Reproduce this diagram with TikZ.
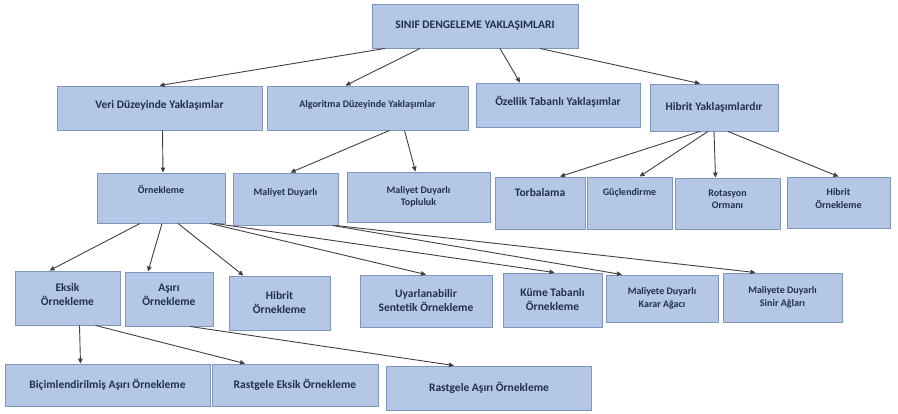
\documentclass[tikz,border=0pt]{standalone}
\usepackage{fontspec}
\setmainfont{Carlito}
\usepackage{tikz}
\usetikzlibrary{arrows.meta, positioning}
\definecolor{cfill}{HTML}{B4C7E7}
\definecolor{cedge}{HTML}{7F95BD}
\definecolor{ctext}{HTML}{22304D}
\definecolor{cline}{HTML}{404040}
\tikzset{
  cbox/.style={draw=cedge, fill=cfill, line width=0.9pt, text=ctext,
               font=\fontsize{11.5}{14}\selectfont\bfseries, align=center,
               inner sep=2pt, anchor=center},
  sbox/.style={cbox, font=\fontsize{10}{12.5}\selectfont\bfseries},
  textup/.style={text depth=#1},
  arr/.style={-{Triangle[length=5pt,width=4.5pt]}, line width=0.9pt, cline},
}
\begin{document}
\begin{tikzpicture}[x=1pt, y=-1pt]
  \useasboundingbox (0,0) rectangle (898,413);
  % top level
  \node[cbox, minimum width=206pt, minimum height=44pt] (root) at (475,26) {SINIF DENGELEME YAKLAŞIMLARI};
  \node[cbox, textup=8pt, minimum width=205pt, minimum height=44pt] (veri) at (159.5,108) {Veri Düzeyinde Yaklaşımlar};
  \node[sbox, textup=8pt, minimum width=201pt, minimum height=44pt] (algo) at (367.5,108) {Algoritma Düzeyinde Yaklaşımlar};
  \node[cbox, textup=8pt, minimum width=164pt, minimum height=44pt] (ozel) at (558,105) {Özellik Tabanlı Yaklaşımlar};
  \node[cbox, minimum width=128pt, minimum height=47pt] (hib) at (714,107.5) {Hibrit Yaklaşımlardır};
  % second level
  \node[sbox, textup=17pt, minimum width=128pt, minimum height=50pt] (ornek) at (161,198) {Örnekleme};
  \node[sbox, textup=14pt, minimum width=105pt, minimum height=52pt] (mdu) at (285.5,199) {Maliyet Duyarlı};
  \node[sbox, minimum width=143pt, minimum height=50pt] (mdt) at (418.5,197) {Maliyet Duyarlı\\Topluluk};
  \node[cbox, textup=22pt, minimum width=90pt, minimum height=52pt] (torb) at (540,203) {Torbalama};
  \node[sbox, textup=22pt, minimum width=85pt, minimum height=52pt] (guc) at (629.5,203) {Güçlendirme};
  \node[sbox, textup=8pt, minimum width=105pt, minimum height=51pt] (rot) at (727.5,203.5) {Rotasyon\\Ormanı};
  \node[sbox, textup=8pt, minimum width=103pt, minimum height=51pt] (hibo) at (838.5,202.5) {Hibrit\\Örnekleme};
  % third level
  \node[cbox, textup=8pt, minimum width=105pt, minimum height=54pt] (eksik) at (67.5,298) {Eksik\\Örnekleme};
  \node[cbox, textup=8pt, minimum width=88pt, minimum height=54pt] (asiri) at (169,299) {Aşırı\\Örnekleme};
  \node[cbox, minimum width=101pt, minimum height=54pt] (hibr) at (279.5,303) {Hibrit\\Örnekleme};
  \node[cbox, minimum width=132pt, minimum height=52pt] (uyar) at (426,301) {Uyarlanabilir\\Sentetik Örnekleme};
  \node[cbox, minimum width=99pt, minimum height=54pt] (kume) at (552.5,300) {Küme Tabanlı\\Örnekleme};
  \node[sbox, minimum width=112pt, minimum height=47pt] (karar) at (662,298.5) {Maliyete Duyarlı\\Karar Ağacı};
  \node[sbox, minimum width=119pt, minimum height=49pt] (sinir) at (782.5,297.5) {Maliyete Duyarlı\\Sinir Ağları};
  % bottom level
  \node[cbox, minimum width=205pt, minimum height=42pt] (bic) at (107.5,385) {Biçimlendirilmiş Aşırı Örnekleme};
  \node[cbox, minimum width=166pt, minimum height=42pt] (reks) at (295,385) {Rastgele Eksik Örnekleme};
  \node[cbox, minimum width=205pt, minimum height=44pt] (rasi) at (489,388) {Rastgele Aşırı Örnekleme};
  % connectors
  \foreach \a/\sa/\b/\sb in {
    root/-90/veri/0, root/-55/algo/-22, root/25/ozel/-38, root/65/hib/-14,
    veri/3/ornek/2, algo/22/mdu/5, algo/37/mdt/-3,
    hib/-14/torb/20, hib/-6/guc/10, hib/0/rot/-12, hib/14/hibo/0,
    ornek/-21/eksik/-18, ornek/1/asiri/-21, ornek/17/hibr/-36,
    ornek/49/uyar/0, ornek/54/kume/2, mdu/47/karar/-40, mdu/50/sinir/-27,
    eksik/12/bic/-27, eksik/28/reks/-50, asiri/21/rasi/-35}{
    \draw[arr] ([xshift=\sa pt]\a.south) -- ([xshift=\sb pt]\b.north);
  }
\end{tikzpicture}
\end{document}
